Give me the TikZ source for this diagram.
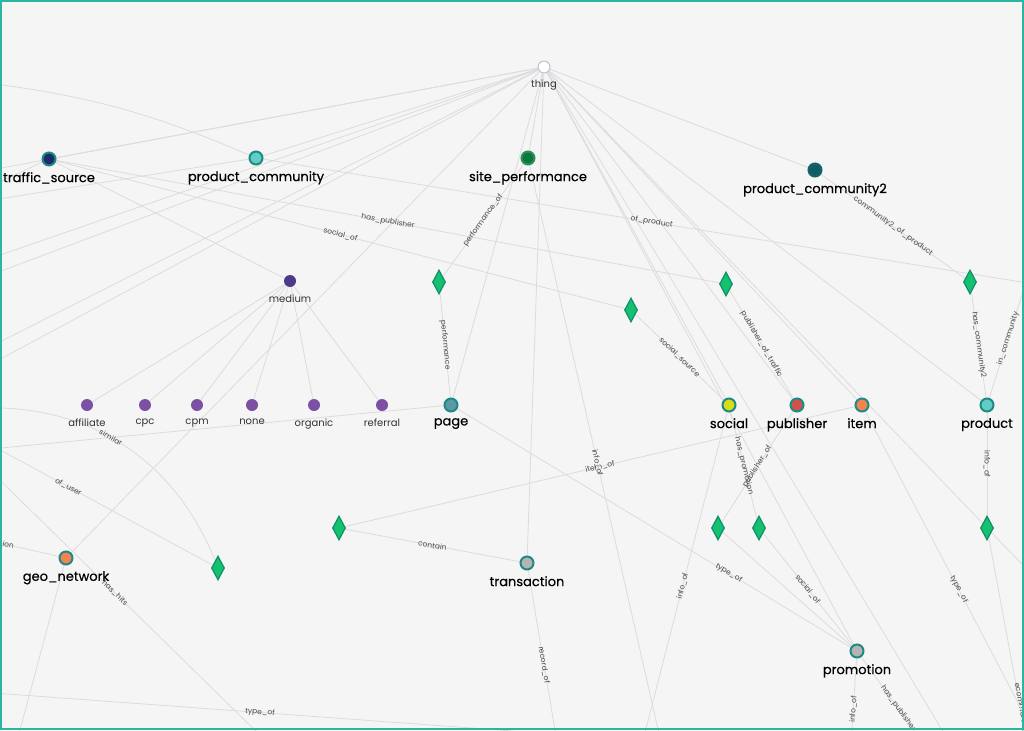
\documentclass[tikz,border=0pt]{standalone}
\usepackage{fontspec}
\setmainfont{Poppins}
\newfontfamily\namefont{Poppins}[FakeBold=0.5]
\usetikzlibrary{shapes.geometric,backgrounds}
\definecolor{bgcol}{HTML}{F5F5F5}
\definecolor{framecol}{HTML}{2CB5A0}
\definecolor{linkcol}{HTML}{DCDCDC}
\definecolor{ringcol}{HTML}{1F8A84}
\definecolor{relfill}{HTML}{14C16E}
\definecolor{reldraw}{HTML}{0E8E6A}
\definecolor{attrcol}{HTML}{7C50A3}
\definecolor{mediumcol}{HTML}{4B3B87}
\definecolor{navycol}{HTML}{1C2B6B}
\definecolor{lightteal}{HTML}{5FCFC6}
\definecolor{sitegreen}{HTML}{0A7A3C}
\definecolor{darkteal}{HTML}{0F5C64}
\definecolor{pagecol}{HTML}{5A98A6}
\definecolor{socialcol}{HTML}{D9DD16}
\definecolor{pubcol}{HTML}{D1524A}
\definecolor{orangecol}{HTML}{F2854F}
\definecolor{greycol}{HTML}{B4B4B4}
\definecolor{thingring}{HTML}{B9C3D6}

\begin{document}
\begin{tikzpicture}[x=1pt,y=-1pt,
  entity/.style={circle,minimum size=13pt,inner sep=0pt,line width=2pt,draw=ringcol},
  attr/.style={circle,minimum size=12pt,inner sep=0pt,fill=attrcol},
  rel/.style={diamond,minimum width=13pt,minimum height=24pt,inner sep=0pt,fill=relfill,draw=reldraw,line width=1.2pt},
  ename/.style={font=\namefont\fontsize{13}{13}\selectfont,text=black,inner sep=0pt,label distance=5.5pt},
  aname/.style={font=\fontsize{10}{10}\selectfont,text=black!80,inner sep=0pt,label distance=7.5pt},
  link/.style={draw=linkcol,line width=0.8pt},
  elabel/.style={font=\fontsize{7.5}{7.5}\selectfont,text=black!70,sloped,inner sep=1pt},
]
\useasboundingbox (0,0) rectangle (1024,730);

% entity types
\node[circle,minimum size=12pt,inner sep=0pt,fill=white,draw=thingring,line width=1pt,
  label={[aname,label distance=6pt]below:thing}] (thing) at (544,67) {};
\node[entity,fill=navycol,label={[ename]below:traffic\_source}] (traffic_source) at (49,159) {};
\node[entity,fill=lightteal,label={[ename]below:product\_community}] (product_community) at (256,158) {};
\node[entity,fill=sitegreen,draw=sitegreen!85!white,label={[ename]below:site\_performance}] (site_performance) at (528,158) {};
\node[entity,fill=darkteal,draw=darkteal!80!ringcol,label={[ename]below:product\_community2}] (product_community2) at (815,170) {};
\node[attr,fill=mediumcol,label={[aname]below:medium}] (medium) at (290,281) {};
\foreach \nm/\xx in {affiliate/87,cpc/145,cpm/197,none/252,organic/314,referral/382}{
  \node[attr,label={[aname]below:\nm}] (\nm) at (\xx,405) {};
  }
\node[entity,fill=pagecol,label={[ename]below:page}] (page) at (451,405) {};
\node[entity,fill=socialcol,label={[ename]below:social}] (social) at (729,405) {};
\node[entity,fill=pubcol,label={[ename]below:publisher}] (publisher) at (797,405) {};
\node[entity,fill=orangecol,label={[ename]below:item}] (item) at (862,405) {};
\node[entity,fill=lightteal,label={[ename]below:product}] (product) at (987,405) {};
\node[entity,fill=orangecol,label={[ename]below:geo\_network}] (geo_network) at (66,558) {};
\node[entity,fill=greycol,label={[ename]below:transaction}] (transaction) at (527,563) {};
\node[entity,fill=greycol,label={[ename]below:promotion}] (promotion) at (857,651) {};

% relations
\node[rel] (rel1) at (439,282) {};
\node[rel] (rel2) at (631,310) {};
\node[rel] (rel3) at (726,284) {};
\node[rel] (rel4) at (970,282) {};
\node[rel] (rel5) at (218,568) {};
\node[rel] (rel6) at (339,528) {};
\node[rel] (rel7) at (718,528) {};
\node[rel] (rel8) at (759,528) {};
\node[rel] (rel9) at (987,528) {};

% free ends outside the frame
\coordinate (lt1) at (-20,172);
\coordinate (lt2) at (-20,262);
\coordinate (lt3) at (-20,279);
\coordinate (lt4) at (-20,352);
\coordinate (lt5) at (-20,370);
\coordinate (pcleft) at (-20,202);
\coordinate (tsleft) at (-20,191);
\coordinate (arcleft) at (-20,82);
\coordinate (pageleft) at (-20,450);
\coordinate (userleft) at (-20,439);
\coordinate (simleft) at (-20,408);
\coordinate (sessleft) at (-40,534);
\coordinate (geodown) at (12,760);
\coordinate (hitsa) at (-40,441);
\coordinate (hitsb) at (270,745);
\coordinate (typea) at (-20,692);
\coordinate (typeb) at (540,733);
\coordinate (recend) at (560,760);
\coordinate (spend) at (665,760);
\coordinate (socend) at (638,760);
\coordinate (prinfo) at (850,760);
\coordinate (prpub) at (935,760);
\coordinate (thingb) at (960,760);
\coordinate (thingr) at (1040,583);
\coordinate (itemend) at (1035,735);
\coordinate (relnend) at (1030,760);
\coordinate (pcright) at (1040,285);
\coordinate (prodright) at (1027,279);

\begin{scope}[on background layer]
\fill[bgcol] (0,0) rectangle (1024,730);
% thing to its sub types
\foreach \tgt in {traffic_source,product_community,site_performance,product_community2,page,
  social,publisher,item,product,transaction,promotion,geo_network,lt1,lt2,lt3,lt4,lt5,thingb,thingr}{
  \path[link] (thing) edge (\tgt);
  }
\foreach \nm in {affiliate,cpc,cpm,none,organic,referral}{
  \path[link] (medium) edge (\nm);
  }
\path[link] (traffic_source) edge (medium)
  (traffic_source) edge (tsleft)
  (product_community) edge (pcleft)
  (arcleft) edge[bend left=8] (product_community)
  (traffic_source) edge node[elabel] {has\_publisher} (rel3)
  (traffic_source) edge node[elabel] {social\_of} (rel2)
  (product_community) edge node[elabel] {of\_product} (pcright)
  (site_performance) edge node[elabel] {performance\_of} (rel1)
  (rel1) edge node[elabel] {performance} (page)
  (rel2) edge node[elabel] {social\_source} (social)
  (rel3) edge node[elabel] {publisher\_of\_traffic} (publisher)
  (product_community2) edge node[elabel] {community2\_of\_product} (rel4)
  (rel4) edge node[elabel] {has\_community2} (product)
  (product) edge node[elabel] {in\_community} (prodright)
  (product) edge node[elabel] {info\_of} (rel9)
  (rel9) edge node[elabel,pos=0.78] {ecommerce\_p} (relnend)
  (item) edge node[elabel,pos=0.55] {type\_of} (itemend)
  (rel6) edge node[elabel] {item\_of} (item)
  (rel6) edge node[elabel] {contain} (transaction)
  (transaction) edge node[elabel] {record\_of} (recend)
  (site_performance) edge node[elabel] {info\_of} (spend)
  (social) edge node[elabel] {info\_of} (socend)
  (social) edge node[elabel] {has\_promotion} (rel8)
  (publisher) edge node[elabel] {publisher\_of} (rel7)
  (rel8) edge node[elabel] {social\_of} (promotion)
  (rel7) edge (promotion)
  (page) edge node[elabel,pos=0.69] {type\_of} (promotion)
  (promotion) edge node[elabel] {info\_of} (prinfo)
  (promotion) edge node[elabel] {has\_publisher} (prpub)
  (pageleft) edge (page)
  (simleft) edge[bend left=35] node[elabel,pos=0.45] {similar} (rel5)
  (userleft) edge node[elabel,pos=0.38] {of\_user} (rel5)
  (geo_network) edge node[elabel,pos=0.55] {ssion} (sessleft)
  (geo_network) edge (geodown)
  (hitsa) edge node[elabel] {has\_hits} (hitsb)
  (typea) edge node[elabel] {type\_of} (typeb);
\end{scope}

\draw[framecol,line width=2pt] (1,1) rectangle (1023,729);
\end{tikzpicture}
\end{document}
